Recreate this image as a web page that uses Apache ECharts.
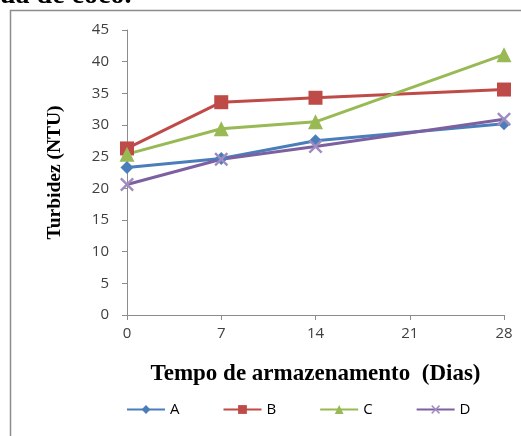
<!DOCTYPE html>
<html>
<head>
<meta charset="utf-8">
<script src="https://cdn.jsdelivr.net/npm/echarts@6/dist/echarts.min.js"></script>
<style>html,body{margin:0;padding:0;background:#fff;}#c{width:521px;height:436px;}</style>
</head>
<body>
<div id="c"></div>
<script>
var days = [0, 7, 14, 28];
var xTicks = [0, 7, 14, 21, 28];
var seriesA = [23.3, 24.7, 27.5, 30.2];
var seriesB = [26.3, 33.6, 34.3, 35.6];
var seriesC = [25.4, 29.4, 30.5, 41.1];
var seriesD = [20.6, 24.6, 26.6, 30.9];
var names = ['A', 'B', 'C', 'D'];

function pairs(v) { return days.map(function (d, i) { return [d, v[i]]; }); }
var xPath = 'path://M0,1.2L1.2,0L5,3.8L8.8,0L10,1.2L6.2,5L10,8.8L8.8,10L5,6.2L1.2,10L0,8.8L3.8,5Z';

var chart = echarts.init(document.getElementById('c'), null, {renderer: 'canvas'});
var lab = {fontFamily: 'Open Sans', fontSize: 15, color: '#404040'};
chart.setOption({
  animation: false,
  backgroundColor: '#fff',
  graphic: [
    {type: 'text', x: 0, y: 0, style: {x: 0, y: 10, verticalAlign: 'bottom', text: 'ua de coco.', font: 'bold 28px "Liberation Serif"', fill: '#000'}},
    {type: 'polyline', shape: {points: [[10.5, 436], [10.5, 10.5], [521, 10.5]]}, style: {stroke: '#8c8c8c', lineWidth: 1.5, fill: null}}
  ],
  grid: {left: 127, right: 17, top: 30, bottom: 121},
  legend: {
    bottom: 14, left: 121, itemWidth: 38, itemHeight: 11, itemGap: 43,
    textStyle: {fontFamily: 'Open Sans', fontSize: 15, color: '#000'},
    data: names
  },
  xAxis: {
    type: 'value', min: 0, max: 28, interval: 7,
    name: 'Tempo de armazenamento  (Dias)', nameLocation: 'middle', nameGap: 48,
    nameTextStyle: {fontFamily: 'Liberation Serif', fontWeight: 'bold', fontSize: 23, color: '#000'},
    axisLine: {lineStyle: {color: '#8c8c8c'}},
    axisTick: {show: true, length: 5, lineStyle: {color: '#8c8c8c'}},
    axisLabel: Object.assign({margin: 11, formatter: function (v) { return xTicks.indexOf(v) >= 0 ? String(v) : ''; }}, lab),
    splitLine: {show: false}
  },
  yAxis: {
    type: 'value', min: 0, max: 45, interval: 5,
    name: 'Turbidez (NTU)', nameLocation: 'middle', nameGap: 62, nameRotate: 90,
    nameTextStyle: {fontFamily: 'Liberation Serif', fontWeight: 'bold', fontSize: 19.5, color: '#000'},
    axisLine: {show: true, lineStyle: {color: '#8c8c8c'}},
    axisTick: {show: true, length: 5, lineStyle: {color: '#8c8c8c'}},
    axisLabel: Object.assign({margin: 18}, lab),
    splitLine: {show: false}
  },
  series: [
    {name: 'A', type: 'line', data: pairs(seriesA), symbol: 'diamond', symbolSize: 13,
     lineStyle: {color: '#4a7ebb', width: 3}, itemStyle: {color: '#4a7ebb'}},
    {name: 'B', type: 'line', data: pairs(seriesB), symbol: 'rect', symbolSize: 14,
     lineStyle: {color: '#be4b48', width: 3}, itemStyle: {color: '#be4b48'}},
    {name: 'C', type: 'line', data: pairs(seriesC), symbol: 'triangle', symbolSize: 15,
     lineStyle: {color: '#98b954', width: 3}, itemStyle: {color: '#98b954'}},
    {name: 'D', type: 'line', data: pairs(seriesD), symbol: xPath, symbolSize: 14,
     lineStyle: {color: '#7d60a0', width: 3}, itemStyle: {color: '#a08cc0'}}
  ]
});
</script>
</body>
</html>
